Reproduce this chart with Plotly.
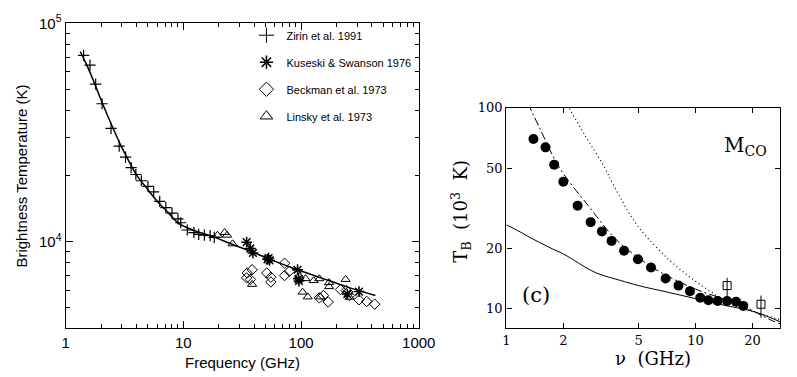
import plotly.graph_objects as go

# ---------------- Left panel data ----------------
zirin_nu = [1.42, 1.61, 1.80, 2.04, 2.43, 2.85, 3.23, 3.6, 3.95, 4.4, 5.0, 5.6, 6.3, 7.1, 8.0, 9.0, 9.5,
            10.8, 12.3, 13.5, 15.1, 16.9, 18.3]
zirin_T = [71300, 64400, 52700, 42800, 33000, 27400, 24400, 21800, 20300, 19000, 17900, 16900, 15300,
           14300, 13500, 12700, 12200, 11300, 11000, 10800, 10700, 10640, 10460]

kus_nu = [34.5, 37.1, 39.0, 51.9, 53.0, 54.0, 93.4, 95.0, 96.0, 247, 311]
kus_T = [9940, 9300, 8870, 8300, 8400, 8200, 7430, 6750, 6600, 5750, 5900]

beck_nu = [38.4, 34.9, 34.5, 37.1, 51.1, 55.4, 55.4, 72.4, 72.4, 79.6, 96.2, 143, 155, 170,
           216, 242, 258, 311, 361, 422, 250]
beck_T = [7430, 7180, 6820, 6710, 7180, 6870, 6530, 7960, 6990, 7310, 6820, 5520, 5660, 5290,
          6030, 5970, 5660, 5410, 5320, 5170, 5870]

lin_nu = [19.5, 22.4, 23.5, 26.2, 38.4, 109, 128, 143, 173, 173, 103, 114, 146, 239, 258]
lin_T = [10700, 11000, 10700, 9770, 6370, 6770, 6630, 6760, 6490, 6220, 5870, 5580, 5580, 6710, 5560]

fit_nu = [1.33, 1.5, 1.75, 2.0, 2.5, 3.0, 3.5, 4.05, 5.0, 6.0, 7.5, 9.2, 12, 18.5, 25, 39, 54, 93,
          150, 242, 428]
fit_T = [74300, 65000, 53500, 44500, 33500, 27000, 23000, 20000, 17300, 15300, 13500, 12080, 11300,
         10460, 9800, 8930, 8310, 7430, 6800, 6220, 5660]

legend_names = ["Zirin et al. 1991", "Kuseski & Swanson 1976", "Beckman et al. 1973", "Linsky et al. 1973"]

left_xticks = [1, 10, 100, 1000]
left_xticktext = ["1", "10", "100", "1000"]
left_yticks = [1e4, 1e5]
left_yticktext = ["10<sup>4</sup>", "10<sup>5</sup>"]

# ---------------- Right panel data ----------------
circ_nu = [1.39, 1.61, 1.79, 2.0, 2.38, 2.79, 3.2, 3.6, 4.19, 4.96, 5.82, 6.95, 8.13, 9.35, 10.6,
           11.7, 13.1, 14.7, 16.4, 17.9]
circ_T = [69.7, 63.4, 52, 42.7, 32.5, 26.9, 24.2, 21.7, 19.4, 17.6, 16.0, 14.1, 13.0, 12.2, 11.3,
          11.0, 10.9, 10.9, 10.8, 10.3]

sq_nu = [14.7, 22.2]
sq_T = [13.0, 10.5]
sq_err_up = [1.2, 1.1]
sq_err_dn = [1.8, 1.5]

solid_nu = [1.0, 1.15, 1.33, 1.5, 1.75, 2.0, 2.3, 2.6, 3.0, 3.5, 4.0, 5.0, 7.0, 10, 14, 20, 28]
solid_T = [26.1, 24.4, 22.6, 21.3, 19.8, 18.7, 17.3, 16.1, 15.0, 14.3, 13.8, 13.0, 12.1, 11.2, 10.4,
           9.7, 8.6]

dashdot_nu = [1.3, 1.5, 1.9, 2.71, 3.87, 6.2, 10, 17.4, 24.8, 28]
dashdot_T = [105, 79, 50.5, 32.5, 21.7, 15.6, 12.5, 10.4, 8.8, 8.4]

dot_nu = [2.1, 2.6, 3.3, 3.72, 4.9, 7.29, 10.8, 16.1, 25.8, 28]
dot_T = [103, 73, 50.5, 40.5, 26.1, 17.4, 13.0, 10.4, 9.0, 8.8]

right_xticks = [1, 2, 5, 10, 20]
right_yticks = [10, 20, 50, 100]

# ---------------- Figure ----------------
fig = go.Figure()
blk = "black"

def mk(symbol, size, lw=1):
    return dict(symbol=symbol, size=size, color=blk, line=dict(color=blk, width=lw))

fig.add_trace(go.Scatter(x=fit_nu, y=fit_T, mode="lines", line=dict(color=blk, width=1.5, shape="spline"),
                         showlegend=False, xaxis="x", yaxis="y"))
fig.add_trace(go.Scatter(x=zirin_nu, y=zirin_T, mode="markers", marker=mk("cross-thin-open", 8, 1.2),
                         showlegend=False, xaxis="x", yaxis="y"))
fig.add_trace(go.Scatter(x=kus_nu, y=kus_T, mode="markers", marker=mk("asterisk-open", 9, 1.5),
                         showlegend=False, xaxis="x", yaxis="y"))
fig.add_trace(go.Scatter(x=beck_nu, y=beck_T, mode="markers", marker=mk("diamond-open", 8),
                         showlegend=False, xaxis="x", yaxis="y"))
fig.add_trace(go.Scatter(x=lin_nu, y=lin_T, mode="markers", marker=mk("triangle-up-open", 8),
                         showlegend=False, xaxis="x", yaxis="y"))

# legend entries
for name, sym, lw in zip(legend_names,
                         ["cross-thin-open", "asterisk-open", "diamond-open", "triangle-up-open"],
                         [1, 1.5, 1, 1]):
    fig.add_trace(go.Scatter(x=[None], y=[None], mode="markers", marker=mk(sym, 11, lw), name=name,
                             legendgroup=name, showlegend=True, xaxis="x", yaxis="y"))

# right panel
fig.add_trace(go.Scatter(x=solid_nu, y=solid_T, mode="lines", line=dict(color=blk, width=1, shape="spline"),
                         showlegend=False, xaxis="x2", yaxis="y2"))
fig.add_trace(go.Scatter(x=dashdot_nu, y=dashdot_T, mode="lines",
                         line=dict(color=blk, width=1, dash="8px,3px,2px,3px", shape="spline"),
                         showlegend=False, xaxis="x2", yaxis="y2"))
fig.add_trace(go.Scatter(x=dot_nu, y=dot_T, mode="lines",
                         line=dict(color=blk, width=1.2, dash="1px,3px", shape="spline"),
                         showlegend=False, xaxis="x2", yaxis="y2"))
fig.add_trace(go.Scatter(x=circ_nu, y=circ_T, mode="markers",
                         marker=dict(symbol="circle", size=10, color=blk),
                         showlegend=False, xaxis="x2", yaxis="y2"))
fig.add_trace(go.Scatter(x=sq_nu, y=sq_T, mode="markers", marker=mk("square-open", 8),
                         error_y=dict(type="data", array=sq_err_up, arrayminus=sq_err_dn,
                                      color=blk, thickness=1, width=0),
                         showlegend=False, xaxis="x2", yaxis="y2"))

minor_x_left = [m * 10 ** e for e in range(3) for m in range(2, 10)]
minor_y_left = [m * 10 ** e for e in (3, 4) for m in range(2, 10) if 4000 <= m * 10 ** e <= 1e5]

sans = "Liberation Sans, Arial, sans-serif"
serif = "DejaVu Serif, serif"

axis_common = dict(showline=True, linecolor=blk, linewidth=1.3, mirror="allticks", ticks="inside",
                   tickcolor=blk, showgrid=False, zeroline=False, type="log", tickmode="array")


def ann(text, x, y, font, size, angle=0):
    return dict(text=text, x=x / 797, y=1 - y / 377, xref="paper", yref="paper", xanchor="center",
                yanchor="middle", textangle=angle, showarrow=False,
                font=dict(family=font, size=size, color=blk))


fig.update_layout(
    width=797, height=377, margin=dict(l=0, r=0, t=0, b=0),
    paper_bgcolor="white", plot_bgcolor="white",
    xaxis=dict(axis_common, domain=[63.3 / 797, 426 / 797], range=[0, 3],
               tickvals=left_xticks, ticktext=left_xticktext, ticklen=7, tickwidth=1,
               tickfont=dict(family=sans, size=15, color=blk),
               minor=dict(tickvals=minor_x_left, ticks="inside", ticklen=4, tickcolor=blk, showgrid=False),
               anchor="y"),
    yaxis=dict(axis_common, domain=[1 - 327 / 377, 1 - 12.7 / 377], range=[3.602, 5],
               tickvals=left_yticks, ticktext=left_yticktext, ticklen=7, tickwidth=1,
               tickfont=dict(family=sans, size=15, color=blk),
               minor=dict(tickvals=minor_y_left, ticks="inside", ticklen=4, tickcolor=blk, showgrid=False),
               anchor="x"),
    xaxis2=dict(axis_common, domain=[516 / 797, 1.0], range=[0, 1.447], mirror="ticks",
                tickvals=right_xticks, ticktext=[str(v) for v in right_xticks], ticklen=5,
                tickfont=dict(family=serif, size=13, color=blk), anchor="y2"),
    yaxis2=dict(axis_common, domain=[1 - 326.5 / 377, 1 - 99.5 / 377], range=[0.903, 2.0], mirror="ticks",
                tickvals=right_yticks, ticktext=[str(v) for v in right_yticks], ticklen=5,
                tickfont=dict(family=serif, size=13, color=blk), anchor="x2"),
    legend=dict(x=249 / 797, y=1 - 10 / 377, xanchor="left", yanchor="top", bgcolor="rgba(0,0,0,0)",
                font=dict(family=sans, size=11, color=blk), tracegroupgap=8, itemclick=False),
    annotations=[
        ann("Frequency (GHz)", 245, 362, sans, 15),
        ann("Brightness Temperature (K)", 17, 170, sans, 15, -90),
        ann("ν  (GHz)", 667, 358, serif, 18),
        ann("T<sub>B</sub>  (10<sup>3</sup>  K)", 469, 206, serif, 18, -90),
        ann("M<sub>CO</sub>", 762, 139, serif, 20),
        ann("(c)", 546, 293, serif, 21),
    ],
)

fig.write_html("out.html")
